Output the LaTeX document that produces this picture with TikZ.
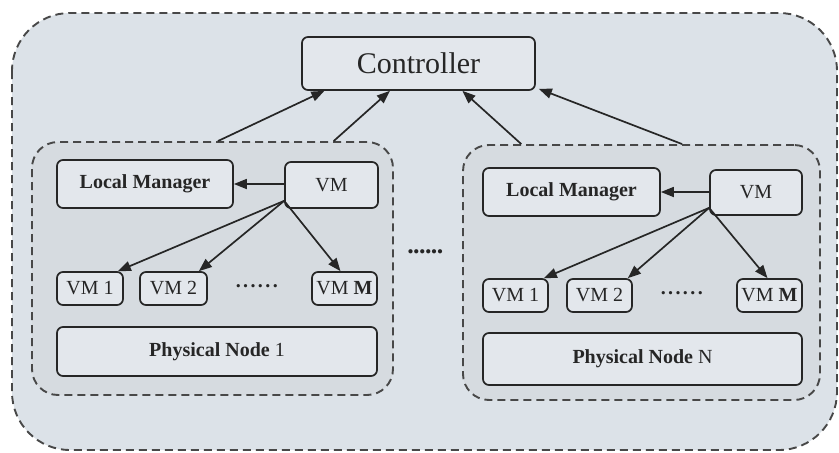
\documentclass[tikz,border=0pt]{standalone}
\usepackage{fontspec}
\setmainfont{Liberation Serif}
\usetikzlibrary{arrows.meta,calc}
\definecolor{outerfill}{HTML}{DCE2E8}
\definecolor{groupfill}{HTML}{D6DBE0}
\definecolor{boxfill}{HTML}{E3E7EC}
\definecolor{edge}{HTML}{262626}
\definecolor{dashc}{HTML}{484848}
\tikzset{
  box/.style={draw=edge, line width=1.7pt, fill=boxfill, rounded corners=6pt,
    inner sep=0pt, font=\fontsize{20}{23}\selectfont, text=edge},
  group/.style={draw=dashc, line width=1.9pt, dash pattern=on 8pt off 5pt,
    fill=groupfill, rounded corners=26pt, inner sep=0pt},
  link/.style={draw=edge, line width=1.7pt, -{Triangle[length=13pt,width=10pt]}},
  dotstext/.style={font=\bfseries\fontsize{20}{22}\selectfont, text=edge, inner sep=0pt}
}
\newcommand{\hdots}[1]{\foreach \i in {1,...,#1}{.\kern2.4pt}}
\begin{document}
\begin{tikzpicture}[x=1pt,y=-1pt]
\useasboundingbox (0,0) rectangle (839,453);
% outer container
\draw[draw=dashc, line width=1.9pt, dash pattern=on 8pt off 5pt, fill=outerfill,
  rounded corners=58pt] (12,13) rectangle (837,450);
% groups
\node[group, minimum width=361pt, minimum height=253pt] (g1) at (212.5,268.5) {};
\node[group, minimum width=357pt, minimum height=255pt] (g2) at (641.5,272.5) {};
% controller
\node[box, minimum width=233pt, minimum height=53pt, font=\fontsize{30}{33}\selectfont] (ctrl) at (418.5,63.5) {Controller};
% left group
\node[box, minimum width=176pt, minimum height=48pt, font=\bfseries\fontsize{20}{23}\selectfont] (lm1) at (145,184) {Local Manager};
\node[box, minimum width=93pt, minimum height=46pt] (vma) at (331.5,185) {VM};
\node[box, minimum width=66pt, minimum height=33pt] (v11) at (90,288.5) {VM 1};
\node[box, minimum width=67pt, minimum height=33pt] (v12) at (173.5,288.5) {VM 2};
\node[box, minimum width=65pt, minimum height=33pt] (v1m) at (344.5,288.5) {VM \textbf{M}};
\node[box, minimum width=320pt, minimum height=49pt] (p1) at (217,351.5) {\textbf{Physical Node} 1};
\node[dotstext] (d1) at (258,286) {\hdots{6}};
% right group
\node[box, minimum width=177pt, minimum height=48pt, font=\bfseries\fontsize{20}{23}\selectfont] (lm2) at (571.5,192) {Local Manager};
\node[box, minimum width=92pt, minimum height=45pt] (vmb) at (756,192.5) {VM};
\node[box, minimum width=65pt, minimum height=33pt] (v21) at (515.5,295.5) {VM 1};
\node[box, minimum width=65pt, minimum height=33pt] (v22) at (599.5,295.5) {VM 2};
\node[box, minimum width=65pt, minimum height=33pt] (v2m) at (769.5,295.5) {VM \textbf{M}};
\node[box, minimum width=319pt, minimum height=52pt] (p2) at (642.5,359) {\textbf{Physical Node} N};
\node[dotstext] (d2) at (683,293) {\hdots{6}};
% middle dots
\node[dotstext, font=\bfseries\fontsize{26}{28}\selectfont] (dm) at (425,252) {\foreach \i in {1,...,6}{.\kern-0.6pt}};
% arrows to controller
\draw[link] ($(g1.north west)!0.515!(g1.north east)$) -- ($(ctrl.south west)!0.099!(ctrl.south east)$);
\draw[link] ($(g1.north west)!0.834!(g1.north east)$) -- ($(ctrl.south west)!0.378!(ctrl.south east)$);
\draw[link] ($(g2.north west)!0.165!(g2.north east)$) -- ($(ctrl.south west)!0.687!(ctrl.south east)$);
\draw[link] ($(g2.north west)!0.613!(g2.north east)$) -- ($(ctrl.south east)+(3,-2)$);
% VM to local manager
\draw[link] (vma.west |- lm1.east) -- (lm1.east);
\draw[link] (vmb.west |- lm2.east) -- (lm2.east);
% VM to VMs
\coordinate (sa) at ($(vma.south west)+(0,-8)$);
\draw[link] (sa) -- ($(v11.north east)+(-6,0)$);
\draw[link] (sa) -- ($(v12.north east)+(-9,0)$);
\draw[link] (sa) -- ($(v1m.north)+(-4,0)$);
\coordinate (sb) at ($(vmb.south west)+(0,-8)$);
\draw[link] (sb) -- ($(v21.north east)+(-5,0)$);
\draw[link] (sb) -- ($(v22.north east)+(-5,0)$);
\draw[link] (sb) -- ($(v2m.north)+(-2,0)$);
\end{tikzpicture}
\end{document}
